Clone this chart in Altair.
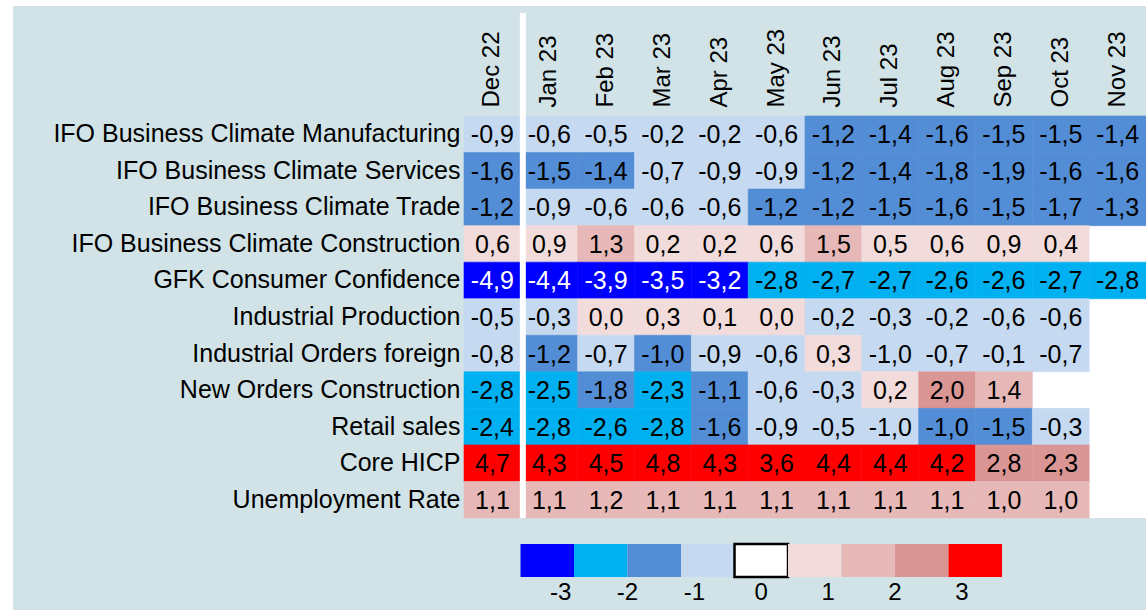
import altair as alt
import pandas as pd

FONT = "Liberation Sans"

months = ["Dec 22", "Jan 23", "Feb 23", "Mar 23", "Apr 23", "May 23",
          "Jun 23", "Jul 23", "Aug 23", "Sep 23", "Oct 23", "Nov 23"]

indicators = [
    "IFO Business Climate Manufacturing",
    "IFO Business Climate Services",
    "IFO Business Climate Trade",
    "IFO Business Climate Construction",
    "GFK Consumer Confidence",
    "Industrial Production",
    "Industrial Orders foreign",
    "New Orders Construction",
    "Retail sales",
    "Core HICP",
    "Unemployment Rate",
]

# values per indicator (None = not yet available)
ifo_manufacturing = [-0.9, -0.6, -0.5, -0.2, -0.2, -0.6, -1.2, -1.4, -1.6, -1.5, -1.5, -1.4]
ifo_services      = [-1.6, -1.5, -1.4, -0.7, -0.9, -0.9, -1.2, -1.4, -1.8, -1.9, -1.6, -1.6]
ifo_trade         = [-1.2, -0.9, -0.6, -0.6, -0.6, -1.2, -1.2, -1.5, -1.6, -1.5, -1.7, -1.3]
ifo_construction  = [0.6, 0.9, 1.3, 0.2, 0.2, 0.6, 1.5, 0.5, 0.6, 0.9, 0.4, None]
gfk_confidence    = [-4.9, -4.4, -3.9, -3.5, -3.2, -2.8, -2.7, -2.7, -2.6, -2.6, -2.7, -2.8]
industrial_prod   = [-0.5, -0.3, 0.0, 0.3, 0.1, 0.0, -0.2, -0.3, -0.2, -0.6, -0.6, None]
orders_foreign    = [-0.8, -1.2, -0.7, -1.0, -0.9, -0.6, 0.3, -1.0, -0.7, -0.1, -0.7, None]
orders_constr     = [-2.8, -2.5, -1.8, -2.3, -1.1, -0.6, -0.3, 0.2, 2.0, 1.4, None, None]
retail_sales      = [-2.4, -2.8, -2.6, -2.8, -1.6, -0.9, -0.5, -1.0, -1.0, -1.5, -0.3, None]
core_hicp         = [4.7, 4.3, 4.5, 4.8, 4.3, 3.6, 4.4, 4.4, 4.2, 2.8, 2.3, None]
unemployment      = [1.1, 1.1, 1.2, 1.1, 1.1, 1.1, 1.1, 1.1, 1.1, 1.0, 1.0, None]

# colour class per cell (index into class_colors)
cls_ifo_manufacturing = [3, 3, 3, 3, 3, 3, 2, 2, 2, 2, 2, 2]
cls_ifo_services      = [2, 2, 2, 3, 3, 3, 2, 2, 2, 2, 2, 2]
cls_ifo_trade         = [2, 3, 3, 3, 3, 2, 2, 2, 2, 2, 2, 2]
cls_ifo_construction  = [5, 5, 6, 5, 5, 5, 6, 5, 5, 5, 5, None]
cls_gfk_confidence    = [0, 0, 0, 0, 0, 1, 1, 1, 1, 1, 1, 1]
cls_industrial_prod   = [3, 3, 5, 5, 5, 5, 3, 3, 3, 3, 3, None]
cls_orders_foreign    = [3, 2, 3, 2, 3, 3, 5, 3, 3, 3, 3, None]
cls_orders_constr     = [1, 1, 2, 1, 2, 3, 3, 5, 7, 6, None, None]
cls_retail_sales      = [1, 1, 1, 1, 2, 3, 3, 3, 2, 2, 3, None]
cls_core_hicp         = [8, 8, 8, 8, 8, 8, 8, 8, 8, 7, 7, None]
cls_unemployment      = [6, 6, 6, 6, 6, 6, 6, 6, 6, 6, 6, None]

class_colors = ["#0000FF", "#00B0F0", "#538DD5", "#C5D9F1", "#FFFFFF",
                "#F2DCDB", "#E6B8B7", "#DA9694", "#FF0000"]
legend_labels = [-3, -2, -1, 0, 1, 2, 3]

series = [ifo_manufacturing, ifo_services, ifo_trade, ifo_construction,
          gfk_confidence, industrial_prod, orders_foreign, orders_constr,
          retail_sales, core_hicp, unemployment]
classes = [cls_ifo_manufacturing, cls_ifo_services, cls_ifo_trade,
           cls_ifo_construction, cls_gfk_confidence, cls_industrial_prod,
           cls_orders_foreign, cls_orders_constr, cls_retail_sales,
           cls_core_hicp, cls_unemployment]

rows = []
for ind, vals, cls in zip(indicators, series, classes):
    for m, v, c in zip(months, vals, cls):
        if v is None:
            continue
        rows.append({
            "indicator": ind,
            "month": m,
            "value": v,
            "label": f"{v:.1f}".replace(".", ","),
            "fill": class_colors[c],
            "tcolor": "#FFFFFF" if c == 0 else "#000000",
        })
df = pd.DataFrame(rows)

# legend: 9 contiguous boxes on a scale where the tick labels sit at -3..3
n_cls = len(class_colors)
box_w = 0.8
leg_start = -box_w * n_cls / 2
leg_df = pd.DataFrame({
    "k": list(range(n_cls)),
    "lo": [leg_start + box_w * i for i in range(n_cls)],
    "hi": [leg_start + box_w * (i + 1) for i in range(n_cls)],
    "color": class_colors,
})
lab_df = pd.DataFrame({"v": legend_labels, "t": [str(v) for v in legend_labels]})

W, H = 682, 402

xscale = alt.Scale(domain=months, paddingInner=0, paddingOuter=0)
yscale = alt.Scale(domain=indicators, paddingInner=0, paddingOuter=0)

x_axis = alt.Axis(orient="top", labelAngle=-90, labelAlign="left",
                  labelBaseline="middle", labelPadding=9, ticks=False,
                  domain=False, grid=False, labelFontSize=24, labelFont=FONT,
                  labelColor="black", title=None)
y_axis = alt.Axis(orient="left", labelPadding=4, ticks=False, domain=False,
                  grid=False, labelFontSize=25, labelFont=FONT,
                  labelColor="black", title=None, labelLimit=0)

X = alt.X("month:N", scale=xscale, axis=x_axis)
Y = alt.Y("indicator:N", scale=yscale, axis=y_axis)

base = alt.Chart(df)
cells = base.mark_rect(strokeWidth=0.6).encode(
    x=X, y=Y,
    fill=alt.Fill("fill:N", scale=None),
    stroke=alt.Stroke("fill:N", scale=None),
)
texts = base.mark_text(font=FONT, fontSize=25, baseline="middle",
                       align="center", dy=1).encode(
    x=X, y=Y,
    text="label:N",
    color=alt.Color("tcolor:N", scale=None),
)
sep = alt.Chart(pd.DataFrame({"month": [months[1]]})).mark_rule(
    color="white", strokeWidth=6, xOffset=2).encode(
    x=alt.X("month:N", scale=xscale, axis=x_axis, bandPosition=0),
    y=alt.value(-103),
    y2=alt.value(H),
)
main = alt.layer(cells, texts, sep)

leg_scale = alt.Scale(domain=[-4.445, 5.753], nice=False, zero=False)
leg_rect = alt.Chart(leg_df).mark_rect(strokeWidth=2.5).encode(
    x=alt.X("lo:Q", scale=leg_scale, axis=None),
    x2="hi:Q",
    y=alt.value(428),
    y2=alt.value(461),
    fill=alt.Fill("color:N", scale=None),
    stroke=alt.condition("datum.k == 4", alt.value("black"), alt.value("transparent")),
)
leg_text = alt.Chart(lab_df).mark_text(font=FONT, fontSize=24,
                                       baseline="middle", color="black").encode(
    x=alt.X("v:Q", scale=leg_scale, axis=None),
    y=alt.value(477),
    text="t:N",
)
legend = alt.layer(leg_rect, leg_text)

one = pd.DataFrame({"a": [0]})
strip_top = alt.Chart(one).mark_rect(color="white").encode(
    x=alt.value(-464), x2=alt.value(W), y=alt.value(-116), y2=alt.value(-110))
strip_left = alt.Chart(one).mark_rect(color="white").encode(
    x=alt.value(-464), x2=alt.value(-451), y=alt.value(-116), y2=alt.value(H + 92))
deco = alt.layer(strip_top, strip_left)

chart = alt.layer(deco, main, legend).resolve_scale(x="independent").properties(
    width=W,
    height=H,
    autosize=alt.AutoSizeParams(type="none"),
    padding={"left": 464, "top": 116, "right": 0, "bottom": 92},
    background="#D1E3E7",
).configure_view(stroke=None, fill="white")

chart.save("out.html", embed_options={"renderer": "svg", "actions": False})
